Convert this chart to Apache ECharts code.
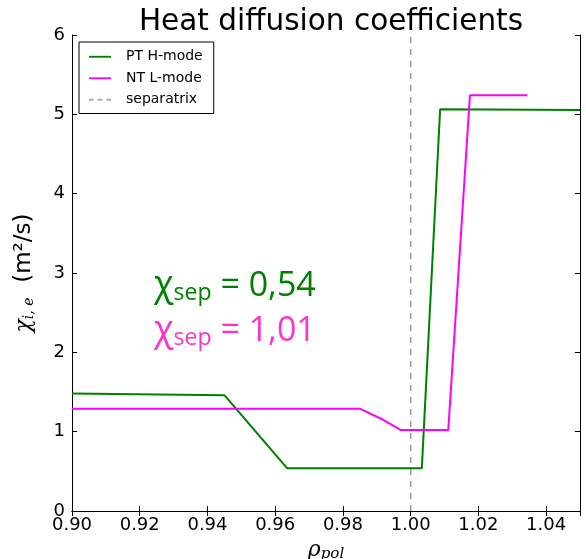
<!DOCTYPE html>
<html><head><meta charset="utf-8">
<script src="https://cdn.jsdelivr.net/npm/echarts@6/dist/echarts.min.js"></script>
<style>html,body{margin:0;padding:0;background:#fff}#c{width:586px;height:559px}</style>
</head><body><div id="c"></div>
<script>
const titleText = 'Heat diffusion coefficients';
const seriesNames = ['PT H-mode', 'NT L-mode', 'separatrix'];
const ptX = [0.90, 0.945, 0.9635, 1.0033, 1.0087, 1.05];
const ptY = [1.48, 1.46, 0.54, 0.54, 5.065, 5.055];
const ntX = [0.90, 0.985, 0.9919, 0.9971, 1.0111, 1.0175, 1.0345];
const ntY = [1.29, 1.29, 1.15, 1.02, 1.02, 5.24, 5.24];
const sepX = [1.0, 1.0];
const sepY = [0, 6];
const xTicks = [0.90, 0.92, 0.94, 0.96, 0.98, 1.00, 1.02, 1.04];
const yTicks = [0, 1, 2, 3, 4, 5, 6];
const annotPT = '0,54';
const annotNT = '1,01';

const zip = (a, b) => a.map((v, i) => [v, b[i]]);
const chart = echarts.init(document.getElementById('c'), null, {renderer: 'canvas'});
const F = 'DejaVu Sans';
const axisCommon = {
  axisLine: {show: true, lineStyle: {color: '#000', width: 1}},
  axisTick: {show: true, inside: true, length: 5, lineStyle: {color: '#000'}},
  splitLine: {show: false}
};
const solidIcon = 'path://M0,0H24V2H0Z';
const dashIcon = 'path://M0,0H5V2H0Z M9.5,0H14.5V2H9.5Z M19,0H24V2H19Z';
chart.setOption({
  animation: false,
  backgroundColor: '#fff',
  title: {text: titleText, left: 326, top: 2, textAlign: 'center',
    textStyle: {fontFamily: F, fontSize: 29.5, fontWeight: 'normal', color: '#000'}},
  grid: {left: 72, right: 6, top: 35, bottom: 48, containLabel: false, outerBoundsMode: 'none'},
  legend: {
    orient: 'vertical', left: 79, top: 42, padding: [7, 11, 6, 10],
    itemGap: 6, itemWidth: 22, itemHeight: 2,
    borderColor: '#000', borderWidth: 1, borderRadius: 0, backgroundColor: '#fff',
    textStyle: {fontFamily: F, fontSize: 14, color: '#000', padding: [0, 0, 0, 10], lineHeight: 15.5},
    data: [
      {name: seriesNames[0], icon: solidIcon},
      {name: seriesNames[1], icon: solidIcon},
      {name: seriesNames[2], icon: dashIcon}
    ]
  },
  xAxis: [
    Object.assign({type: 'value', min: 0.90, max: 1.05, interval: 0.02, position: 'bottom',
      axisLabel: {fontFamily: F, fontSize: 18, color: '#000', margin: 5, showMaxLabel: false,
        formatter: v => xTicks.some(t => Math.abs(t - v) < 1e-9) ? v.toFixed(2) : ''},
      name: '{i|ρ}{s|pol}', nameLocation: 'middle', nameGap: 22,
      nameTextStyle: {rich: {
        i: {fontFamily: 'DejaVu Serif', fontStyle: 'italic', fontSize: 22, color: '#000'},
        s: {fontFamily: 'DejaVu Serif', fontStyle: 'italic', fontSize: 15, color: '#000', padding: [8, 0, 0, 0]}
      }}
    }, axisCommon),
    Object.assign({type: 'value', min: 0.90, max: 1.05, interval: 0.02, position: 'top',
      axisLabel: {show: false}}, axisCommon)
  ],
  yAxis: [
    Object.assign({type: 'value', min: 0, max: 6, interval: 1, position: 'left',
      axisLabel: {fontFamily: F, fontSize: 18, color: '#000', margin: 7,
        formatter: v => yTicks.includes(v) ? String(v) : ''},
      name: '{i|χ}{s|i, e}{t|  (m²/s)}', nameLocation: 'middle', nameGap: 36, nameRotate: 90,
      nameTextStyle: {rich: {
        i: {fontFamily: 'DejaVu Serif', fontStyle: 'italic', fontSize: 22, color: '#000'},
        s: {fontFamily: 'DejaVu Serif', fontStyle: 'italic', fontSize: 14, color: '#000', padding: [10, 0, 0, 0]},
        t: {fontFamily: F, fontSize: 23, color: '#000'}
      }}
    }, axisCommon),
    Object.assign({type: 'value', min: 0, max: 6, interval: 1, position: 'right',
      axisLabel: {show: false}}, axisCommon)
  ],
  series: [
    {name: seriesNames[0], type: 'line', symbol: 'none', data: zip(ptX, ptY),
      lineStyle: {color: '#008000', width: 2}, itemStyle: {color: '#008000'}},
    {name: seriesNames[1], type: 'line', symbol: 'none', data: zip(ntX, ntY),
      lineStyle: {color: '#ff00ff', width: 2}, itemStyle: {color: '#ff00ff'}},
    {name: seriesNames[2], type: 'line', symbol: 'none', data: zip(sepX, sepY),
      lineStyle: {color: '#999999', width: 1.5, type: [6, 6]}, itemStyle: {color: '#aaaaaa'}}
  ],
  graphic: [
    {type: 'text', left: 154, top: 268, style: {
      text: '{a|χ}{b|sep}{c| = ' + annotPT + '}',
      rich: {
        a: {fontFamily: 'Open Sans', fontSize: 36, fill: '#008000'},
        b: {fontFamily: 'Open Sans', fontSize: 23, fill: '#008000', padding: [14, 0, 0, 0]},
        c: {fontFamily: 'Open Sans', fontSize: 34, fill: '#008000'}
      }}},
    {type: 'text', left: 154, top: 313, style: {
      text: '{a|χ}{b|sep}{c| = ' + annotNT + '}',
      rich: {
        a: {fontFamily: 'Open Sans', fontSize: 36, fill: '#ff33cc'},
        b: {fontFamily: 'Open Sans', fontSize: 23, fill: '#ff33cc', padding: [14, 0, 0, 0]},
        c: {fontFamily: 'Open Sans', fontSize: 34, fill: '#ff33cc'}
      }}}
  ]
});
</script></body></html>
